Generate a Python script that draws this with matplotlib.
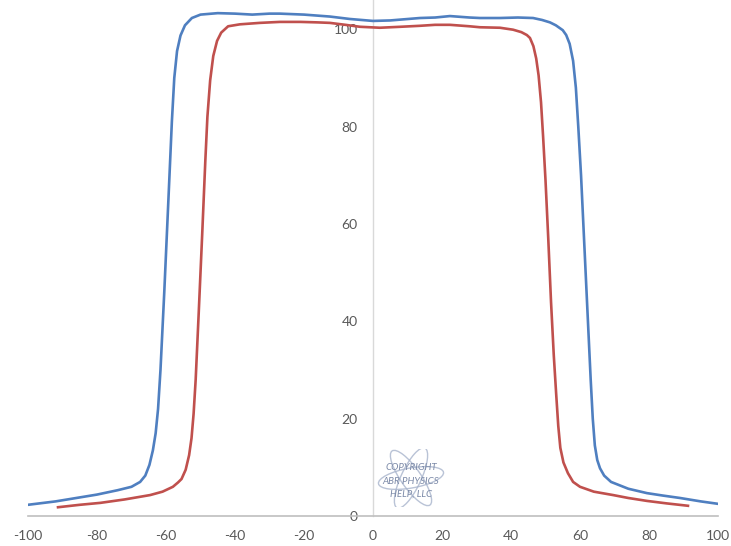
import matplotlib
matplotlib.use('Agg')
from matplotlib import pyplot as plt
from matplotlib.patches import Ellipse

plt.rcParams['font.family'] = ['Lato', 'DejaVu Sans']
plt.rcParams['axes.unicode_minus'] = False

# blue profile (wider field)
blue_x = [-100, -92, -86, -80, -74, -70, -67.5, -66, -64.8, -63.8, -63, -62.3, -61.6,
          -60.5, -59.3, -58.3, -57.6, -56.8, -55.8, -54.5, -52.5, -50, -45, -40, -35,
          -30, -27, -20, -12.5, -6.7, 0, 5, 13.6, 18, 22.3, 28, 31, 36.8, 42, 46.4,
          49, 51.3, 53, 55, 56, 57, 58, 58.8, 59.5, 60.3, 61.3, 62.3, 63.1, 63.7, 64.3,
          65, 65.8, 67, 69, 74, 79.4, 84, 89, 95, 100]
blue_y = [2.3, 3.0, 3.7, 4.4, 5.3, 6.0, 7.0, 8.3, 10.5, 13.5, 17, 22, 30,
          46, 65, 81, 90, 95.5, 98.7, 100.8, 102.3, 103.0, 103.3, 103.2, 103.0,
          103.2, 103.2, 103.0, 102.6, 102.1, 101.7, 101.8, 102.3, 102.4, 102.7, 102.4, 102.3, 102.3, 102.4, 102.3,
          101.9, 101.4, 100.8, 99.8, 98.8, 97.0, 93.5, 88, 80, 70, 55, 40, 28, 20, 14.5,
          11.5, 9.8, 8.3, 7.0, 5.6, 4.7, 4.2, 3.7, 3.0, 2.5]

# red profile (narrower field)
red_x = [-91.3, -85, -79, -72, -64.6, -61, -58, -56.5, -55.5, -54.3, -53.3, -52.6, -52,
         -51.4, -50.5, -49.5, -48.6, -48, -47.2, -46.3, -45.2, -44, -42, -38.6, -32.8,
         -27, -21, -16, -12.5, -8, -3.8, 2, 8, 13.6, 18, 22.3, 28, 31, 36.8, 40.6, 43,
         44.6, 45.5, 46.5, 47.3, 48, 48.7, 49.3, 50, 50.8, 51.6, 52.4, 53.1, 53.7, 54.3,
         55.2, 56.5, 58, 60, 64, 69.6, 74, 79.4, 85, 91.3]
red_y = [1.8, 2.3, 2.7, 3.4, 4.3, 5.0, 6.0, 6.9, 7.6, 9.5, 12.5, 16, 21,
         28, 42, 58, 73, 82, 89.5, 94.5, 97.6, 99.3, 100.6, 101.0, 101.3,
         101.5, 101.5, 101.4, 101.3, 100.9, 100.5, 100.3, 100.5, 100.7, 100.9, 100.9, 100.6, 100.4, 100.3, 99.9, 99.4,
         98.8, 98.2, 96.5, 94, 90.5, 85, 78, 69, 57, 44, 33, 25, 18.5, 14,
         11, 8.8, 7.0, 6.0, 5.0, 4.3, 3.7, 3.1, 2.6, 2.1]

x_ticks = [-100, -80, -60, -40, -20, 0, 20, 40, 60, 80, 100]
y_ticks = [0, 20, 40, 60, 80, 100]

fig = plt.figure(figsize=(7.31, 5.46), dpi=100)
ax = fig.add_axes([28 / 731, 30 / 546, 690 / 731, 516 / 546])

ax.plot(blue_x, blue_y, color='#4F7FC0', lw=1.9, zorder=3)
ax.plot(red_x, red_y, color='#C0504D', lw=1.9, zorder=3)

ax.set_xlim(-100, 100)
ax.set_ylim(0, 106)
ax.set_xticks(x_ticks)
ax.set_yticks(y_ticks)

ax.spines['top'].set_visible(False)
ax.spines['right'].set_visible(False)
ax.spines['left'].set_position(('data', 0))
ax.spines['left'].set_color('#D9D9D9')
ax.spines['left'].set_linewidth(1.0)
ax.spines['bottom'].set_color('#BFBFBF')
ax.spines['bottom'].set_linewidth(1.2)

ax.tick_params(axis='x', length=0, pad=10, labelsize=10, labelcolor='#595959')
ax.tick_params(axis='y', length=0, pad=11, labelsize=10, labelcolor='#595959')

# watermark logo
logo = fig.add_axes([375 / 731, 1 - 507 / 546, 72 / 731, 58 / 546])
logo.set_xlim(-36, 36)
logo.set_ylim(-29, 29)
logo.set_aspect('equal')
logo.axis('off')
for ang in [10, 65, -55]:
    logo.add_patch(Ellipse((0, 0), 66, 20, angle=ang, fill=False,
                           ec='#A8B4CC', lw=1.0, alpha=0.8))
for i, txt in enumerate(['COPYRIGHT', 'ABR PHYSICS', 'HELP, LLC']):
    logo.text(0, 10 - i * 13, txt, ha='center', va='center', fontsize=7,
              style='italic', color='#7C8AA8', zorder=5)

fig.savefig('out.png', dpi=100)
